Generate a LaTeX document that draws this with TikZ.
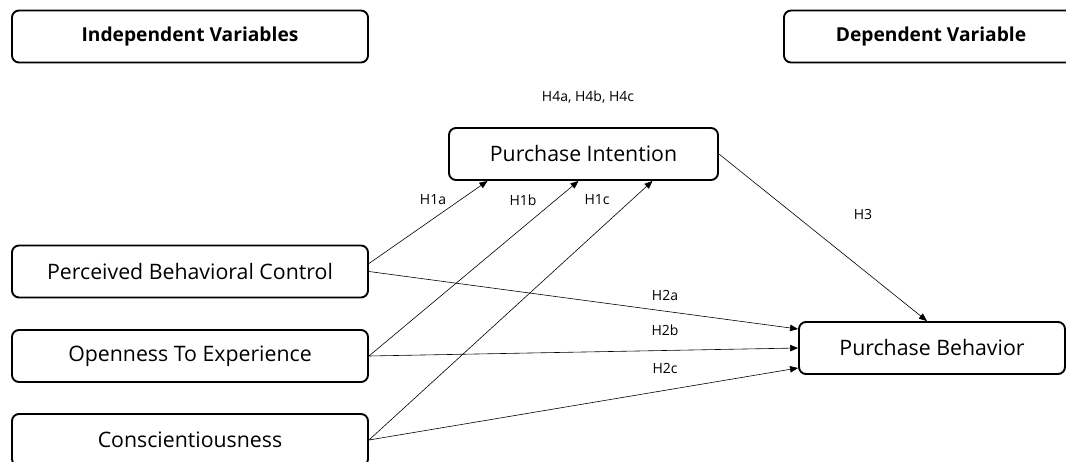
\documentclass[tikz,border=0pt]{standalone}
\usepackage{fontspec}
\setmainfont{Open Sans}
\usetikzlibrary{arrows.meta,calc,positioning}

\begin{document}
\begin{tikzpicture}[x=1pt,y=-1pt,
  box/.style={draw,line width=1.9pt,rounded corners=7pt,inner sep=0pt,
    minimum height=52pt,font=\fontsize{21.3}{25}\selectfont},
  headbox/.style={box,font=\bfseries\fontsize{19.2}{23}\selectfont},
  hyp/.style={font=\fontsize{14}{17}\selectfont,inner sep=1pt},
  link/.style={line width=.6pt,-{Triangle[length=8pt,width=6.5pt]}}]
  \useasboundingbox (0,0) rectangle (1066,461);
  \clip (0,0) rectangle (1066,461);
  % headers
  \node[headbox,minimum width=356pt] (indep) at (190,36.5) {Independent Variables};
  \node[headbox,minimum width=294pt] (dep) at (931,36.5) {Dependent Variable};
  % constructs
  \node[box,minimum width=269pt] (pi) at (583.5,154) {Purchase Intention};
  \node[box,minimum width=356pt] (pbc) at (190,271.5) {Perceived Behavioral Control};
  \node[box,minimum width=356pt] (ote) at (190,356) {Openness To Experience};
  \node[box,minimum width=356pt] (con) at (190,440) {Conscientiousness};
  \node[box,minimum width=266pt] (pb) at (932,348) {Purchase Behavior};
  % paths
  \draw[link] ([yshift=8pt]pbc.east) -- ([xshift=-96pt]pi.south);
  \draw[link] (ote.east) -- ([xshift=-5pt]pi.south);
  \draw[link] (con.east) -- ([xshift=69pt]pi.south);
  \draw[link] (pbc.east) -- ([yshift=19pt]pb.west);
  \draw[link] (ote.east) -- (pb.west);
  \draw[link] (con.east) -- ([yshift=-20pt]pb.west);
  \draw[link] (pi.east) -- ([xshift=-5pt]pb.north);
  % hypotheses
  \node[hyp] (h4) at (588,97) {H4a, H4b, H4c};
  \node[hyp] (h1a) at (433,200) {H1a};
  \node[hyp] (h1b) at (523,200) {H1b};
  \node[hyp] (h1c) at (597,200) {H1c};
  \node[hyp] (h2a) at (665,295) {H2a};
  \node[hyp] (h2b) at (665,330) {H2b};
  \node[hyp] (h2c) at (665,368) {H2c};
  \node[hyp] (h3) at (863,214) {H3};
\end{tikzpicture}
\end{document}
